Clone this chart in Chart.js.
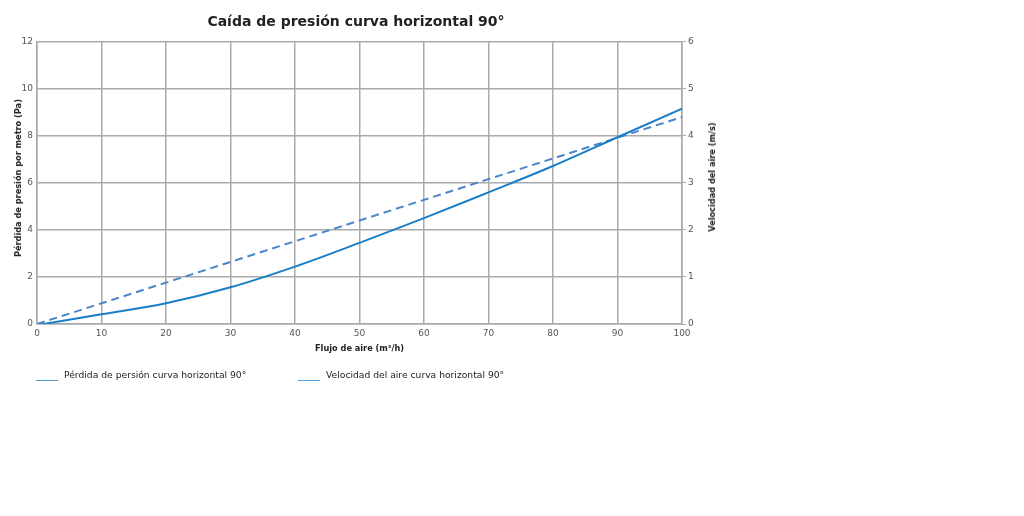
<!DOCTYPE html>
<html>
<head>
<meta charset="utf-8">
<script src="https://cdn.jsdelivr.net/npm/chart.js@4"></script>
<style>
  html, body { margin: 0; padding: 0; background: #fff; }
  #wrap { position: relative; width: 1024px; height: 516px; }
  .legend { position: absolute; top: 368px; font-family: "DejaVu Sans", Verdana, sans-serif; font-size: 9.2px; color: #222; }
  .legend span.mark { color: #1a7fc9; font-size: 11px; margin-right: 6px; }
  .axisTitle {
    position: absolute; white-space: nowrap;
    font-family: "DejaVu Sans", Verdana, sans-serif; font-size: 8.2px; font-weight: bold; color: #222;
    transform: translate(-50%, -50%) rotate(-90deg);
  }
</style>
</head>
<body>
<div id="wrap">
  <canvas id="chart" width="1024" height="516"></canvas>
  <div class="axisTitle" style="left:18px; top:178px">Pérdida de presión por metro (Pa)</div>
  <div class="axisTitle" style="left:712px; top:177px">Velocidad del aire (m/s)</div>
  <div class="legend" style="left:36px"><span class="mark">____</span>Pérdida de persión curva horizontal 90°</div>
  <div class="legend" style="left:298px"><span class="mark">____</span>Velocidad del aire curva horizontal 90°</div>
</div>
<script>
document.addEventListener('DOMContentLoaded', () => {

    // --- DATOS ---
    const flujo = [0, 10, 20, 30, 40, 50, 60, 70, 80, 90, 100];
    const perdidaPresion = [-0.05, 0.41, 0.88, 1.56, 2.44, 3.45, 4.5, 5.6, 6.72, 7.94, 9.16];
    const velocidadAire = [0, 0.44, 0.88, 1.32, 1.76, 2.2, 2.64, 3.08, 3.52, 3.96, 4.4];

    const tickFont = { family: 'DejaVu Sans', size: 9 };
    const titleFont = { family: 'DejaVu Sans', size: 8.2, weight: 'bold' };
    const gridColor = '#aaaaaa';

    const ctx = document.getElementById('chart').getContext('2d');

    new Chart(ctx, {
        type: 'line',
        data: {
            datasets: [{
                label: 'Pérdida de persión curva horizontal 90°',
                data: flujo.map((x, i) => ({ x: x, y: perdidaPresion[i] })),
                borderColor: '#1a7fc9',
                borderWidth: 2,
                pointRadius: 0,
                cubicInterpolationMode: 'monotone',
                yAxisID: 'y'
            }, {
                label: 'Velocidad del aire curva horizontal 90°',
                data: flujo.map((x, i) => ({ x: x, y: velocidadAire[i] })),
                borderColor: '#4a86c8',
                borderWidth: 2,
                borderDash: [8, 5],
                pointRadius: 0,
                yAxisID: 'y1'
            }]
        },
        options: {
            responsive: false,
            animation: false,
            layout: { padding: { left: 10, top: 0, right: 322, bottom: 158 } },
            scales: {
                x: {
                    type: 'linear',
                    min: 0,
                    max: 100,
                    afterFit: (scale) => { scale.height = 34; },
                    ticks: { stepSize: 10, color: '#555', font: tickFont, padding: 4 },
                    grid: { color: gridColor, lineWidth: 1.5, drawTicks: false },
                    border: { color: gridColor, width: 1.5 },
                    title: { display: true, text: 'Flujo de aire (m³/h)', color: '#222', font: titleFont, padding: { top: 3 } }
                },
                y: {
                    position: 'left',
                    min: 0,
                    max: 12,
                    afterFit: (scale) => { scale.width = 27; },
                    ticks: { stepSize: 2, color: '#555', font: tickFont, padding: 4 },
                    grid: { color: gridColor, lineWidth: 1.5, drawTicks: false },
                    border: { color: gridColor, width: 1.5 }
                },
                y1: {
                    position: 'right',
                    min: 0,
                    max: 6,
                    afterFit: (scale) => { scale.width = 20; },
                    ticks: { stepSize: 1, color: '#555', font: tickFont, padding: 2 },
                    grid: { drawOnChartArea: false, color: gridColor, tickLength: 4 },
                    border: { color: gridColor, width: 1.5 }
                }
            },
            plugins: {
                legend: { display: false },
                tooltip: { enabled: false },
                title: {
                    display: true,
                    text: 'Caída de presión curva horizontal 90°',
                    color: '#222',
                    font: { family: 'DejaVu Sans', size: 14, weight: 'bold' },
                    padding: { top: 14, bottom: 11 }
                }
            }
        }
    });
});
</script>
</body>
</html>
